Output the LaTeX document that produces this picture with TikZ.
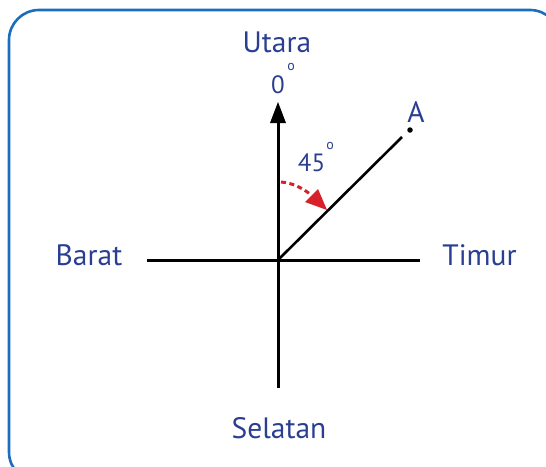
\documentclass[tikz,border=0pt]{standalone}
\usepackage{fontspec}
\setmainfont{PT Sans}
\usetikzlibrary{arrows.meta}
\definecolor{txt}{HTML}{2B3F92}
\definecolor{frame}{HTML}{1A6EBD}
\definecolor{arc}{HTML}{D8202A}
\begin{document}
\begin{tikzpicture}[x=1pt,y=-1pt,
  lbl/.style={text=txt,font=\fontsize{29.5}{32}\selectfont,inner sep=0pt},
  num/.style={text=txt,font=\fontsize{25}{28}\selectfont,inner sep=0pt},
  sup/.style={text=txt,font=\fontsize{14}{16}\selectfont,inner sep=0pt},
  axis/.style={line width=3pt,black}]
\useasboundingbox (0,0) rectangle (546,466);
\draw[frame,line width=2.6pt,rounded corners=30pt] (9,10) rectangle (560,482);
\coordinate (O) at (278,260);
\coordinate (N) at (278,102);
\coordinate (S) at (278,388);
\coordinate (W) at (147,260);
\coordinate (E) at (420,260);
\node[circle,fill=black,inner sep=0pt,minimum size=5.5pt] (dotA) at (410,130) {};
\coordinate (Aend) at (402,137);
\draw[axis] (S) -- (278,118);
\draw[axis] (W) -- (E);
\draw[line width=2.6pt] (O) -- (Aend);
\fill (N) -- (270,123) -- (286,123) -- cycle;
\node[lbl] (utara) at (277,42) {Utara};
\node[num] (zero) at (278,84.5) {0};
\node[sup] (deg0) at (291,67) {o};
\node[lbl] (A) at (416,112) {A};
\node[lbl] (barat) at (89,255.5) {Barat};
\node[lbl] (timur) at (479.5,255.5) {Timur};
\node[lbl] (selatan) at (279,428) {Selatan};
\node[num] (ff) at (311.5,162.5) {45};
\node[sup] (deg45) at (330,146) {o};
\coordinate (arcstart) at (281,182);
\coordinate (arctip) at (327,210);
\draw[arc,line width=3pt,dash pattern=on 5pt off 3.5pt] (arcstart) .. controls (293,183) and (302,188) .. (310,194);
\fill[arc] (arctip) -- (305,202) -- (318,189) -- cycle;
\end{tikzpicture}
\end{document}
